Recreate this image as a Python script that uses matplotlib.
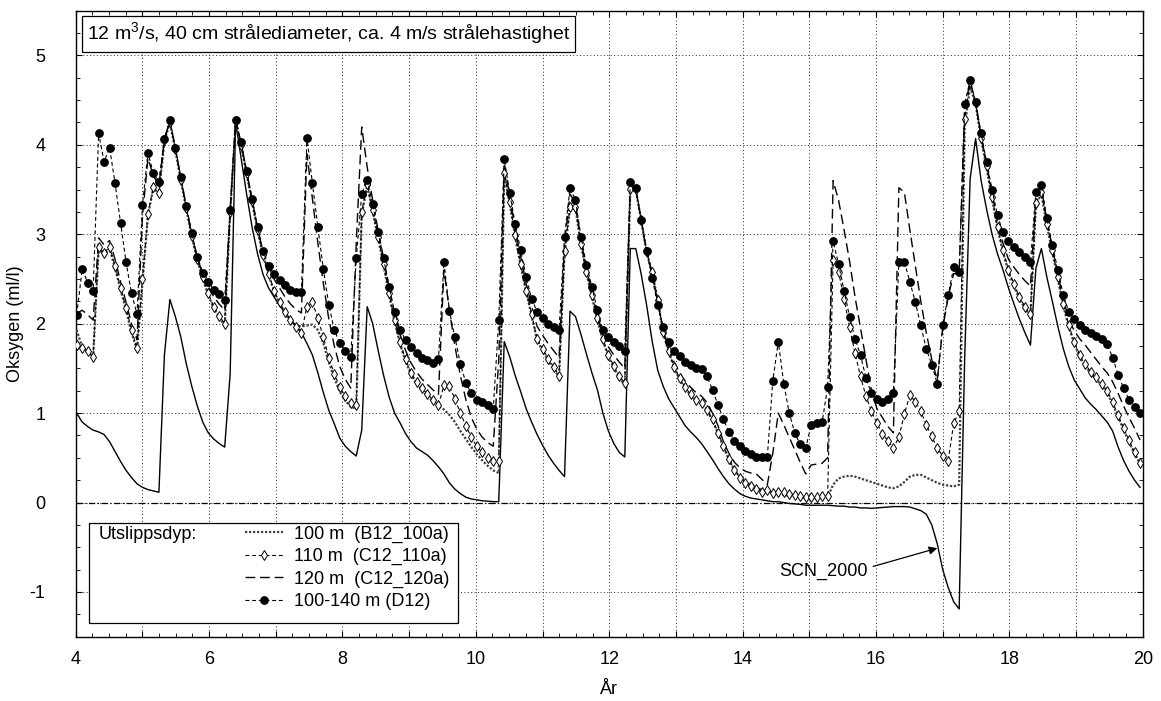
import numpy as np
import matplotlib
matplotlib.use("Agg")
import matplotlib.pyplot as plt
from matplotlib.ticker import MultipleLocator, FuncFormatter
from matplotlib.patches import Rectangle

plt.rcParams['font.family'] = ['Liberation Sans', 'DejaVu Sans']
plt.rcParams['mathtext.fontset'] = 'custom'
plt.rcParams['mathtext.rm'] = 'Liberation Sans'
plt.rcParams['axes.unicode_minus'] = False

# model output every 30 days, first sample just after year 4
step_years = 30 / 365
t0 = 4.015

# SCN_2000 (solid)
scn = [1.00, 0.90, 0.85, 0.81, 0.79, 0.76, 0.68, 0.57, 0.46, 0.36,
       0.28, 0.21, 0.17, 0.145, 0.13, 0.115, 1.65, 2.27, 2.08, 1.85,
       1.55, 1.30, 1.08, 0.90, 0.78, 0.71, 0.66, 0.62, 1.44, 4.25,
       3.85, 3.45, 3.08, 2.78, 2.55, 2.40, 2.30, 2.20, 2.13, 2.05,
       1.98, 1.90, 1.78, 1.65, 1.45, 1.23, 1.03, 0.88, 0.72, 0.63,
       0.57, 0.52, 0.81, 2.19, 2.00, 1.70, 1.42, 1.18, 1.00, 0.89,
       0.77, 0.68, 0.61, 0.57, 0.53, 0.47, 0.40, 0.32, 0.22, 0.15,
       0.10, 0.06, 0.04, 0.03, 0.02, 0.015, 0.01, 0.01, 1.80, 1.63,
       1.42, 1.24, 1.05, 0.90, 0.76, 0.64, 0.53, 0.44, 0.36, 0.29,
       2.14, 2.08, 1.88, 1.66, 1.45, 1.26, 1.00, 0.80, 0.66, 0.56,
       0.51, 2.84, 2.84, 2.55, 2.20, 1.80, 1.48, 1.30, 1.16, 1.06,
       0.96, 0.86, 0.79, 0.73, 0.66, 0.57, 0.48, 0.38, 0.29, 0.21,
       0.15, 0.10, 0.07, 0.05, 0.04, 0.03, 0.02, 0.01, 0.01, 0.00,
       -0.01, -0.015, -0.02, -0.03, -0.03, -0.03, -0.03, -0.03, -0.035, -0.04,
       -0.04, -0.05, -0.05, -0.06, -0.06, -0.065, -0.06, -0.055, -0.05, -0.045,
       -0.045, -0.045, -0.05, -0.07, -0.09, -0.13, -0.25, -0.46, -0.75, -0.95,
       -1.11, -1.19, 1.60, 3.62, 4.07, 3.60, 3.28, 3.00, 2.78, 2.60,
       2.40, 2.22, 2.05, 1.90, 1.76, 2.62, 2.84, 2.52, 2.25, 1.97,
       1.72, 1.52, 1.37, 1.27, 1.17, 1.10, 1.04, 0.97, 0.90, 0.80,
       0.62, 0.47, 0.35, 0.25, 0.17]

# 100 m (B12_100a)
b100 = [1.93, 1.74, 1.69, 1.63, 2.84, 2.77, 2.84, 2.62, 2.38, 2.15,
        1.90, 1.71, 2.46, 3.21, 3.52, 3.45, 4.04, 4.25, 3.94, 3.60,
        3.28, 2.97, 2.71, 2.50, 2.32, 2.17, 2.07, 1.98, 3.24, 4.26,
        3.99, 3.67, 3.36, 3.04, 2.76, 2.55, 2.36, 2.22, 2.11, 2.03,
        1.98, 1.97, 1.98, 1.99, 1.93, 1.78, 1.57, 1.39, 1.24, 1.14,
        1.07, 1.05, 3.22, 3.54, 3.25, 2.95, 2.65, 2.32, 2.02, 1.77,
        1.58, 1.43, 1.33, 1.26, 1.19, 1.13, 1.08, 1.04, 0.98, 0.90,
        0.80, 0.71, 0.62, 0.54, 0.47, 0.41, 0.36, 0.33, 3.67, 3.34,
        2.97, 2.65, 2.35, 2.09, 1.81, 1.70, 1.59, 1.50, 1.40, 2.79,
        3.29, 3.29, 2.88, 2.57, 2.30, 2.04, 1.81, 1.63, 1.51, 1.39,
        1.32, 3.50, 3.50, 3.15, 2.79, 2.57, 2.26, 1.90, 1.68, 1.51,
        1.38, 1.28, 1.20, 1.14, 1.10, 1.03, 0.92, 0.77, 0.62, 0.48,
        0.36, 0.29, 0.23, 0.20, 0.17, 0.14, 0.12, 0.11, 0.10, 0.085,
        0.075, 0.067, 0.06, 0.05, 0.05, 0.05, 0.05, 0.06, 0.20, 0.27,
        0.29, 0.30, 0.29, 0.27, 0.25, 0.23, 0.21, 0.19, 0.17, 0.16,
        0.18, 0.23, 0.29, 0.31, 0.31, 0.28, 0.25, 0.22, 0.20, 0.19,
        0.18, 0.20, 4.20, 4.65, 4.46, 4.06, 3.74, 3.40, 3.06, 2.80,
        2.58, 2.42, 2.28, 2.17, 2.09, 3.33, 3.45, 3.10, 2.80, 2.50,
        2.20, 1.96, 1.78, 1.63, 1.53, 1.44, 1.38, 1.31, 1.23, 1.10,
        0.96, 0.81, 0.68, 0.54, 0.44]

# 110 m (C12_110a)
c110 = [1.76, 1.73, 1.69, 1.63, 2.86, 2.79, 2.86, 2.65, 2.40, 2.18,
        1.93, 1.73, 2.50, 3.23, 3.53, 3.46, 4.05, 4.26, 3.95, 3.61,
        3.29, 2.98, 2.72, 2.52, 2.34, 2.19, 2.09, 2.00, 3.25, 4.27,
        4.00, 3.68, 3.37, 3.05, 2.77, 2.56, 2.37, 2.24, 2.13, 2.04,
        1.96, 1.90, 2.19, 2.24, 2.06, 1.85, 1.62, 1.44, 1.29, 1.19,
        1.11, 1.09, 3.25, 3.56, 3.27, 2.97, 2.67, 2.34, 2.04, 1.79,
        1.60, 1.45, 1.35, 1.28, 1.21, 1.15, 1.09, 1.31, 1.30, 1.16,
        1.00, 0.86, 0.73, 0.63, 0.56, 0.50, 0.46, 0.46, 3.69, 3.36,
        2.99, 2.67, 2.37, 2.11, 1.83, 1.72, 1.61, 1.52, 1.42, 2.81,
        3.30, 3.30, 2.89, 2.58, 2.32, 2.06, 1.83, 1.65, 1.53, 1.41,
        1.34, 3.51, 3.51, 3.16, 2.80, 2.58, 2.27, 1.91, 1.69, 1.52,
        1.39, 1.29, 1.21, 1.15, 1.11, 1.04, 0.93, 0.78, 0.63, 0.49,
        0.36, 0.28, 0.22, 0.18, 0.15, 0.12, 0.14, 0.11, 0.12, 0.12,
        0.10, 0.09, 0.07, 0.06, 0.06, 0.06, 0.07, 0.07, 2.71, 2.58,
        2.28, 1.96, 1.67, 1.41, 1.19, 1.02, 0.885, 0.77, 0.69, 0.61,
        0.73, 0.99, 1.20, 1.13, 1.02, 0.87, 0.74, 0.61, 0.52, 0.47,
        0.885, 1.02, 4.29, 4.70, 4.47, 4.08, 3.76, 3.42, 3.08, 2.82,
        2.60, 2.44, 2.30, 2.19, 2.11, 3.35, 3.47, 3.12, 2.82, 2.52,
        2.22, 1.98, 1.80, 1.65, 1.55, 1.46, 1.40, 1.33, 1.25, 1.12,
        0.98, 0.83, 0.70, 0.56, 0.44]

# 120 m (C12_120a)
c120 = [2.12, 2.15, 2.10, 2.04, 2.96, 2.88, 2.93, 2.72, 2.47, 2.24,
        2.00, 1.82, 3.20, 3.85, 3.65, 3.55, 4.06, 4.27, 3.96, 3.63,
        3.30, 3.00, 2.74, 2.55, 2.42, 2.30, 2.22, 2.15, 3.26, 4.28,
        4.02, 3.70, 3.39, 3.07, 2.80, 2.62, 2.50, 2.40, 2.30, 2.22,
        2.16, 2.12, 3.90, 3.40, 2.90, 2.45, 2.05, 1.75, 1.52, 1.38,
        1.28, 2.90, 4.20, 3.75, 3.38, 3.04, 2.73, 2.41, 2.11, 1.88,
        1.70, 1.56, 1.46, 1.38, 1.32, 1.26, 1.21, 2.60, 2.15, 1.75,
        1.42, 1.15, 0.95, 0.82, 0.73, 0.67, 0.63, 1.60, 3.80, 3.42,
        3.06, 2.75, 2.45, 2.20, 1.97, 1.87, 1.78, 1.70, 1.62, 2.90,
        3.45, 3.35, 2.93, 2.62, 2.36, 2.10, 1.88, 1.74, 1.65, 1.57,
        1.50, 3.55, 3.50, 3.15, 2.80, 2.55, 2.25, 1.93, 1.72, 1.57,
        1.45, 1.36, 1.29, 1.23, 1.19, 1.12, 1.00, 0.86, 0.68, 0.55,
        0.45, 0.39, 0.35, 0.33, 0.32, 0.26, 0.20, 0.55, 1.00, 0.87,
        0.73, 0.59, 0.45, 0.32, 0.42, 0.43, 0.44, 0.50, 3.60, 3.38,
        3.05, 2.70, 2.30, 1.95, 1.60, 1.25, 1.05, 0.95, 0.85, 0.78,
        3.52, 3.47, 3.05, 2.65, 2.25, 1.90, 1.60, 1.37, 1.95, 2.30,
        2.56, 2.56, 4.40, 4.71, 4.47, 4.10, 3.79, 3.46, 3.15, 2.90,
        2.72, 2.63, 2.55, 2.48, 2.42, 3.42, 3.52, 3.15, 2.85, 2.56,
        2.27, 2.05, 1.92, 1.83, 1.76, 1.68, 1.60, 1.52, 1.45, 1.35,
        1.22, 1.08, 0.95, 0.83, 0.70]

# 100-140 m (D12)
d12 = [2.10, 2.61, 2.46, 2.37, 4.13, 3.81, 3.97, 3.57, 3.13, 2.69,
       2.34, 2.11, 3.33, 3.91, 3.68, 3.59, 4.07, 4.28, 3.97, 3.64,
       3.32, 3.01, 2.75, 2.57, 2.47, 2.38, 2.33, 2.27, 3.27, 4.28,
       4.03, 3.71, 3.40, 3.08, 2.81, 2.65, 2.56, 2.49, 2.43, 2.38,
       2.35, 2.36, 4.08, 3.57, 3.08, 2.61, 2.21, 1.93, 1.78, 1.70,
       1.63, 2.73, 3.45, 3.61, 3.34, 3.02, 2.73, 2.41, 2.13, 1.93,
       1.82, 1.74, 1.67, 1.62, 1.59, 1.56, 1.60, 2.69, 2.14, 1.85,
       1.55, 1.34, 1.22, 1.15, 1.12, 1.09, 1.05, 2.04, 3.84, 3.46,
       3.12, 2.82, 2.52, 2.28, 2.13, 2.06, 2.00, 1.96, 1.93, 2.97,
       3.52, 3.38, 2.97, 2.66, 2.41, 2.15, 1.93, 1.85, 1.79, 1.75,
       1.70, 3.59, 3.52, 3.16, 2.81, 2.51, 2.21, 1.96, 1.79, 1.69,
       1.64, 1.57, 1.54, 1.51, 1.49, 1.41, 1.26, 1.09, 0.93, 0.79,
       0.69, 0.63, 0.58, 0.54, 0.51, 0.51, 0.51, 1.36, 1.80, 1.33,
       1.00, 0.78, 0.65, 0.61, 0.87, 0.885, 0.90, 1.29, 2.92, 2.67,
       2.37, 2.08, 1.83, 1.65, 1.39, 1.22, 1.16, 1.12, 1.16, 1.23,
       2.69, 2.69, 2.47, 2.24, 1.98, 1.72, 1.54, 1.33, 1.99, 2.32,
       2.63, 2.58, 4.46, 4.72, 4.48, 4.13, 3.81, 3.50, 3.21, 3.02,
       2.92, 2.86, 2.80, 2.75, 2.69, 3.47, 3.55, 3.18, 2.88, 2.60,
       2.32, 2.13, 2.05, 1.98, 1.93, 1.90, 1.86, 1.83, 1.77, 1.62,
       1.43, 1.28, 1.15, 1.07, 1.00]

labels = ['100 m  (B12_100a)', '110 m  (C12_110a)', '120 m  (C12_120a)', '100-140 m (D12)']

t = t0 + np.arange(len(scn)) * step_years

fig = plt.figure(figsize=(11.61, 7.01), dpi=100)
ax = fig.add_axes([75.7 / 1161, 1 - 636.7 / 701, 1067 / 1161, 626 / 701])

short_dash = (0, (3.5, 2.5))
ax.axhline(0, color='black', lw=0.9, ls=(0, (5, 2, 1, 2)), zorder=2)
ax.plot(t, scn, color='black', lw=1.0, zorder=3)
l1, = ax.plot(t, b100, color='0.25', lw=1.6, ls=(0, (1, 0.8)), zorder=4)
l3, = ax.plot(t, c120, color='black', lw=1.0, ls=(0, (7, 3.5)), zorder=5)
l2, = ax.plot(t, c110, color='black', lw=0.8, ls=short_dash, marker='d', ms=5.5,
              mfc='white', mec='black', mew=0.7, zorder=6)
l4, = ax.plot(t, d12, color='black', lw=0.8, ls=short_dash, marker='o', ms=5.3,
              mfc='black', mec='black', zorder=7)

ax.set_xlim(4, 20)
ax.set_ylim(-1.5, 5.5)
ax.xaxis.set_major_locator(MultipleLocator(1))
ax.xaxis.set_major_formatter(FuncFormatter(lambda v, p: f'{v:.0f}' if round(v) % 2 == 0 else ''))
ax.xaxis.set_minor_locator(MultipleLocator(0.25))
ax.yaxis.set_major_locator(MultipleLocator(1))
ax.yaxis.set_minor_locator(MultipleLocator(0.25))
ax.grid(True, which='major', color='0.15', lw=0.7, ls=(0, (1, 2.5)))
ax.tick_params(which='both', direction='in', top=True, right=True, labelsize=13)
ax.tick_params(which='major', length=4)
ax.tick_params(which='minor', length=3)
ax.tick_params(axis='x', which='major', pad=10)
ax.tick_params(axis='y', which='major', pad=22)
for s in ax.spines.values():
    s.set_linewidth(1.0)

ax.set_xlabel('År', fontsize=13, labelpad=10)
ax.set_ylabel('Oksygen (ml/l)', fontsize=13, labelpad=4)

ax.text(0.0105, 0.984, '12 m$^3$/s, 40 cm strålediameter, ca. 4 m/s strålehastighet',
        transform=ax.transAxes, fontsize=14, ha='left', va='top', zorder=10,
        bbox=dict(boxstyle='square,pad=0.25', fc='white', ec='black', lw=0.9))

# legend frame with the heading on the left
ax.add_patch(Rectangle((0.0121, 0.0214), 0.346, 0.1607, transform=ax.transAxes,
                       fc='white', ec='black', lw=0.9, zorder=8))
ax.text(0.0215, 0.1625, 'Utslippsdyp:', transform=ax.transAxes, fontsize=13,
        ha='left', va='center', zorder=9)
leg = ax.legend([l1, l2, l3, l4], labels, loc='upper left', bbox_to_anchor=(0.159, 0.1776),
                frameon=False, borderpad=0, borderaxespad=0, handlelength=2.1,
                handletextpad=0.6, labelspacing=0.3, fontsize=13)
leg.set_zorder(9)

ax.annotate('SCN_2000', xy=(16.92, -0.51), xytext=(14.55, -0.77), fontsize=13,
            ha='left', va='center', zorder=9,
            arrowprops=dict(arrowstyle='-|>', color='black', lw=0.9, mutation_scale=12,
                            shrinkA=2, shrinkB=0, relpos=(1, 0.7)))

fig.savefig('out.png', dpi=100)
